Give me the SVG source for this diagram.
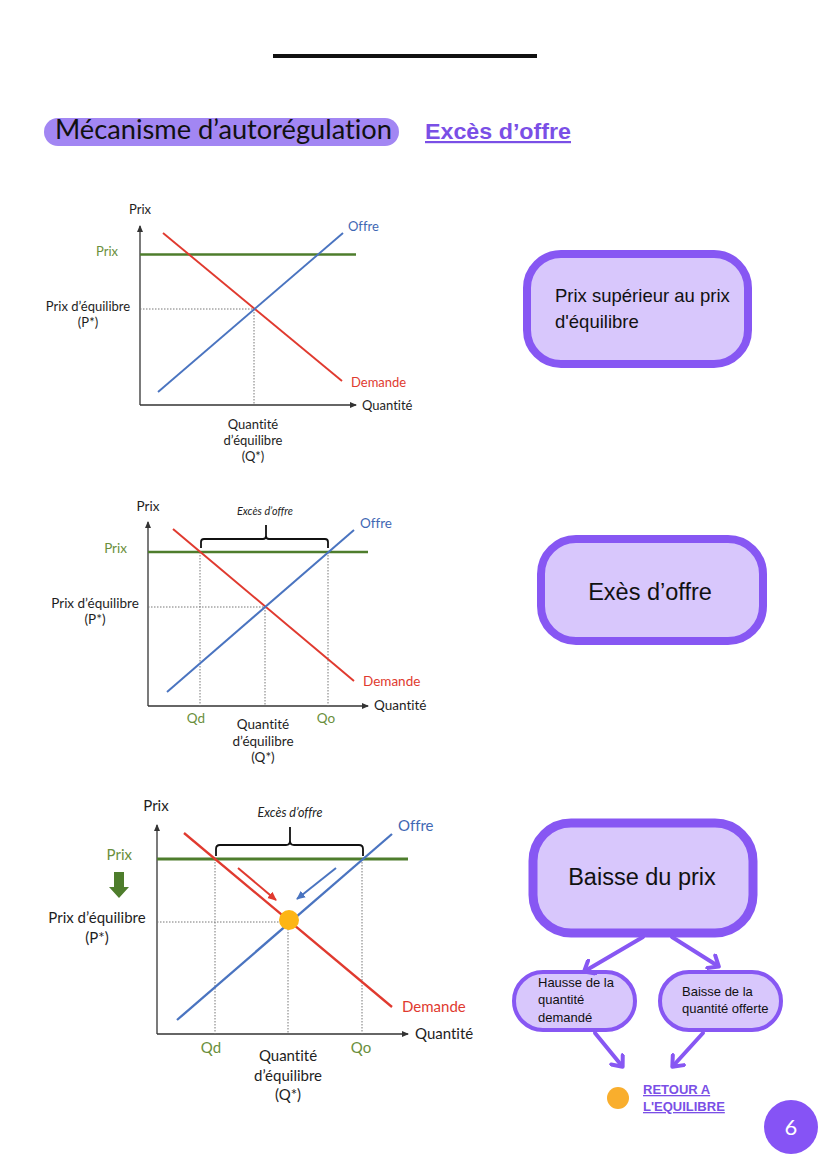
<svg xmlns="http://www.w3.org/2000/svg" width="828" height="1171" viewBox="0 0 828 1171">
<style>
text{font-variant-ligatures:none;font-feature-settings:"liga" 0,"clig" 0}
.ax{stroke:#333;stroke-width:1.3;fill:none}
.dot{stroke:#777;stroke-width:1;stroke-dasharray:1.5 1.5;fill:none}
.grn{stroke:#4E7D2C;fill:none}
.red{stroke:#E03A2F;fill:none}
.blu{stroke:#4A74C0;fill:none}
.brace{stroke:#111;stroke-width:1.8;fill:none;stroke-linejoin:round}
.ct{font-family:Lato,"Liberation Sans",sans-serif;fill:#1e1e1e}
.cg{font-family:Lato,"Liberation Sans",sans-serif;fill:#6A8F3C}
.cb{font-family:Lato,"Liberation Sans",sans-serif;fill:#3F68B4}
.cr{font-family:Lato,"Liberation Sans",sans-serif;fill:#E03A2F}
.ci{font-family:Lato,"Liberation Sans",sans-serif;font-style:italic;fill:#222}
.box{fill:#D8C7FC;stroke:#8757F3}
.bt{font-family:"Liberation Sans",Arial,sans-serif;fill:#111}
.conn{stroke:#8757F3;stroke-width:4;fill:none;stroke-linecap:round}
.link{font-family:"Liberation Sans",Arial,sans-serif;font-weight:bold;fill:#7A4FE6;text-decoration:underline}
</style>
<defs>
<marker id="axh" markerWidth="8" markerHeight="8" refX="6" refY="4" orient="auto" markerUnits="userSpaceOnUse">
<path d="M0,1 L7,4 L0,7 Z" fill="#333"/>
</marker>
<marker id="rh" markerWidth="10" markerHeight="10" refX="8" refY="5" orient="auto" markerUnits="userSpaceOnUse">
<path d="M0,1 L9,5 L0,9 Z" fill="#E03A2F"/>
</marker>
<marker id="bh" markerWidth="10" markerHeight="10" refX="8" refY="5" orient="auto" markerUnits="userSpaceOnUse">
<path d="M0,1 L9,5 L0,9 Z" fill="#4A74C0"/>
</marker>
<marker id="ph" markerWidth="18" markerHeight="18" refX="10" refY="9" orient="auto" markerUnits="userSpaceOnUse">
<path d="M2,1.5 L11,9 L2,16.5" stroke="#8757F3" stroke-width="4" fill="none" stroke-linecap="round" stroke-linejoin="round"/>
</marker>
</defs>
<rect width="828" height="1171" fill="#ffffff"/>

<!-- top rule -->
<line x1="273" y1="56" x2="537" y2="56" stroke="#111" stroke-width="4"/>

<!-- title -->
<g id="title">
<rect x="44" y="118" width="355" height="28" rx="14" fill="#A286F3"/>
<text x="55" y="139" font-family="Lato,'Liberation Sans',sans-serif" font-size="26" fill="#111" textLength="337" lengthAdjust="spacingAndGlyphs">Mécanisme d’autorégulation</text>
<text x="425" y="139" class="link" font-size="22" textLength="146" lengthAdjust="spacingAndGlyphs">Excès d’offre</text>
</g>

<!-- chart 1 -->
<g id="chart1">
<line class="ax" x1="140" y1="405" x2="140" y2="226" marker-end="url(#axh)"/>
<line class="ax" x1="140" y1="405" x2="356" y2="405" marker-end="url(#axh)"/>
<path class="dot" d="M140,309 H254 V405"/>
<line class="grn" stroke-width="2.5" x1="140" y1="254.5" x2="356" y2="254.5"/>
<line class="red" stroke-width="1.9" x1="163" y1="233" x2="342" y2="381"/>
<line class="blu" stroke-width="1.9" x1="158" y1="392" x2="343" y2="233"/>
<text class="ct" x="140" y="214" font-size="13" text-anchor="middle">Prix</text>
<text class="cg" x="118" y="256" font-size="13" text-anchor="end">Prix</text>
<text class="ct" x="88" y="311" font-size="13" text-anchor="middle">Prix d’équilibre</text>
<text class="ct" x="88" y="327" font-size="13" text-anchor="middle">(P*)</text>
<text class="cb" x="348" y="231" font-size="13">Offre</text>
<text class="cr" x="351" y="387" font-size="13">Demande</text>
<text class="ct" x="362" y="410" font-size="13">Quantité</text>
<text class="ct" x="253" y="429" font-size="13" text-anchor="middle">Quantité</text>
<text class="ct" x="253" y="445" font-size="13" text-anchor="middle">d’équilibre</text>
<text class="ct" x="253" y="461" font-size="13" text-anchor="middle">(Q*)</text>
</g>

<!-- chart 2 -->
<g id="chart2">
<line class="ax" x1="148" y1="706" x2="148" y2="522" marker-end="url(#axh)"/>
<line class="ax" x1="148" y1="706" x2="368" y2="706" marker-end="url(#axh)"/>
<path class="dot" d="M148,607 H265 V706 M200,552 V706 M328,552 V706"/>
<line class="grn" stroke-width="2.5" x1="148" y1="552" x2="368" y2="552"/>
<line class="red" stroke-width="2" x1="173" y1="529" x2="354" y2="681"/>
<line class="blu" stroke-width="2" x1="167" y1="692" x2="354" y2="530"/>
<path class="brace" d="M201,548 V542 Q201,539 204,539 H263 Q266,539 266,536 V525 M266,536 Q266,539 269,539 H325 Q328,539 328,542 V548"/>
<text class="ct" x="148" y="511" font-size="13.5" text-anchor="middle">Prix</text>
<text class="ci" x="265" y="515" font-size="10.8" text-anchor="middle">Excès d’offre</text>
<text class="cg" x="127" y="553" font-size="13.5" text-anchor="end">Prix</text>
<text class="cb" x="360" y="528" font-size="13.5">Offre</text>
<text class="ct" x="95" y="608" font-size="13.5" text-anchor="middle">Prix d’équilibre</text>
<text class="ct" x="95" y="624" font-size="13.5" text-anchor="middle">(P*)</text>
<text class="cr" x="363" y="686" font-size="13.5">Demande</text>
<text class="ct" x="374" y="710" font-size="13.5">Quantité</text>
<text class="cg" x="196" y="723" font-size="13.5" text-anchor="middle">Qd</text>
<text class="cg" x="326" y="723" font-size="13.5" text-anchor="middle">Qo</text>
<text class="ct" x="263" y="729" font-size="13.5" text-anchor="middle">Quantité</text>
<text class="ct" x="263" y="746" font-size="13.5" text-anchor="middle">d’équilibre</text>
<text class="ct" x="263" y="762" font-size="13.5" text-anchor="middle">(Q*)</text>
</g>

<!-- chart 3 -->
<g id="chart3">
<line class="ax" x1="157" y1="1034" x2="157" y2="825" marker-end="url(#axh)"/>
<line class="ax" x1="157" y1="1034" x2="408" y2="1034" marker-end="url(#axh)"/>
<path class="dot" d="M157,922 H288 V1034 M215,859 V1034 M362,859 V1034"/>
<line class="grn" stroke-width="3" x1="157" y1="859" x2="408" y2="859"/>
<line class="red" stroke-width="2.3" x1="184" y1="833" x2="392" y2="1007"/>
<line class="blu" stroke-width="2.3" x1="177" y1="1020" x2="392" y2="834"/>
<path class="brace" d="M216,856 V849 Q216,845 220,845 H286 Q290,845 290,841 V827 M290,841 Q290,845 294,845 H359 Q363,845 363,849 V856"/>
<line class="red" stroke-width="2" x1="238" y1="868" x2="276" y2="900" marker-end="url(#rh)"/>
<line class="blu" stroke-width="2" x1="336" y1="868" x2="297" y2="899" marker-end="url(#bh)"/>
<circle cx="289" cy="920" r="10" fill="#FDB515"/>
<path d="M114,872 H124 V887 H129 L119,898 L109,887 H114 Z" fill="#4E7D2C"/>
<text class="ct" x="156" y="811" font-size="15" text-anchor="middle">Prix</text>
<text class="ci" x="290" y="817" font-size="12.5" text-anchor="middle">Excès d’offre</text>
<text class="cg" x="132" y="860" font-size="15" text-anchor="end">Prix</text>
<text class="cb" x="398" y="831" font-size="15">Offre</text>
<text class="ct" x="97" y="923" font-size="15" text-anchor="middle">Prix d’équilibre</text>
<text class="ct" x="97" y="943" font-size="15" text-anchor="middle">(P*)</text>
<text class="cr" x="402" y="1012" font-size="15">Demande</text>
<text class="ct" x="415" y="1039" font-size="15">Quantité</text>
<text class="cg" x="211" y="1053" font-size="15" text-anchor="middle">Qd</text>
<text class="cg" x="361" y="1053" font-size="15" text-anchor="middle">Qo</text>
<text class="ct" x="288" y="1061" font-size="15" text-anchor="middle">Quantité</text>
<text class="ct" x="288" y="1081" font-size="15" text-anchor="middle">d’équilibre</text>
<text class="ct" x="288" y="1100" font-size="15" text-anchor="middle">(Q*)</text>
</g>

<!-- right-side nodes -->
<g id="node-prix-sup">
<rect class="box" x="527" y="254" width="221" height="110" rx="34" stroke-width="8"/>
<text class="bt" x="555" y="302" font-size="18.5">Prix supérieur au prix</text>
<text class="bt" x="555" y="328" font-size="18.5">d'équilibre</text>
</g>
<g id="node-exces">
<rect class="box" x="541" y="539" width="222" height="102" rx="35" stroke-width="8"/>
<text class="bt" x="650" y="600" font-size="23.5" text-anchor="middle">Exès d’offre</text>
</g>
<g id="node-baisse-prix">
<rect class="box" x="533" y="823" width="220" height="110" rx="38" stroke-width="9"/>
<text class="bt" x="642" y="885" font-size="23.5" text-anchor="middle">Baisse du prix</text>
</g>
<g id="node-hausse-qd">
<rect class="box" x="514" y="972" width="121" height="58" rx="29" stroke-width="4"/>
<text class="bt" x="538" y="987" font-size="13">Hausse de la</text>
<text class="bt" x="538" y="1004" font-size="13">quantité</text>
<text class="bt" x="538" y="1022" font-size="13">demandé</text>
</g>
<g id="node-baisse-qo">
<rect class="box" x="660" y="972" width="121" height="58" rx="29" stroke-width="4"/>
<text class="bt" x="682" y="996" font-size="13">Baisse de la</text>
<text class="bt" x="682" y="1013" font-size="13">quantité offerte</text>
</g>
<g id="node-retour">
<circle cx="618" cy="1098" r="11" fill="#F9AE2D"/>
<text class="link" x="643" y="1094" font-size="13">RETOUR A</text>
<text class="link" x="643" y="1111" font-size="13">L'EQUILIBRE</text>
</g>

<g id="connectors">
<line class="conn" x1="643" y1="937" x2="585" y2="971" marker-end="url(#ph)"/>
<line class="conn" x1="672" y1="937" x2="718" y2="966" marker-end="url(#ph)"/>
<line class="conn" x1="595" y1="1033" x2="622" y2="1066" marker-end="url(#ph)"/>
<line class="conn" x1="703" y1="1033" x2="673" y2="1066" marker-end="url(#ph)"/>
</g>

<g id="page-number">
<circle cx="791" cy="1127" r="27" fill="#8653F5"/>
<text x="791" y="1135" font-family="Lato,'Liberation Sans',sans-serif" font-size="22" fill="#ffffff" text-anchor="middle">6</text>
</g>
</svg>
